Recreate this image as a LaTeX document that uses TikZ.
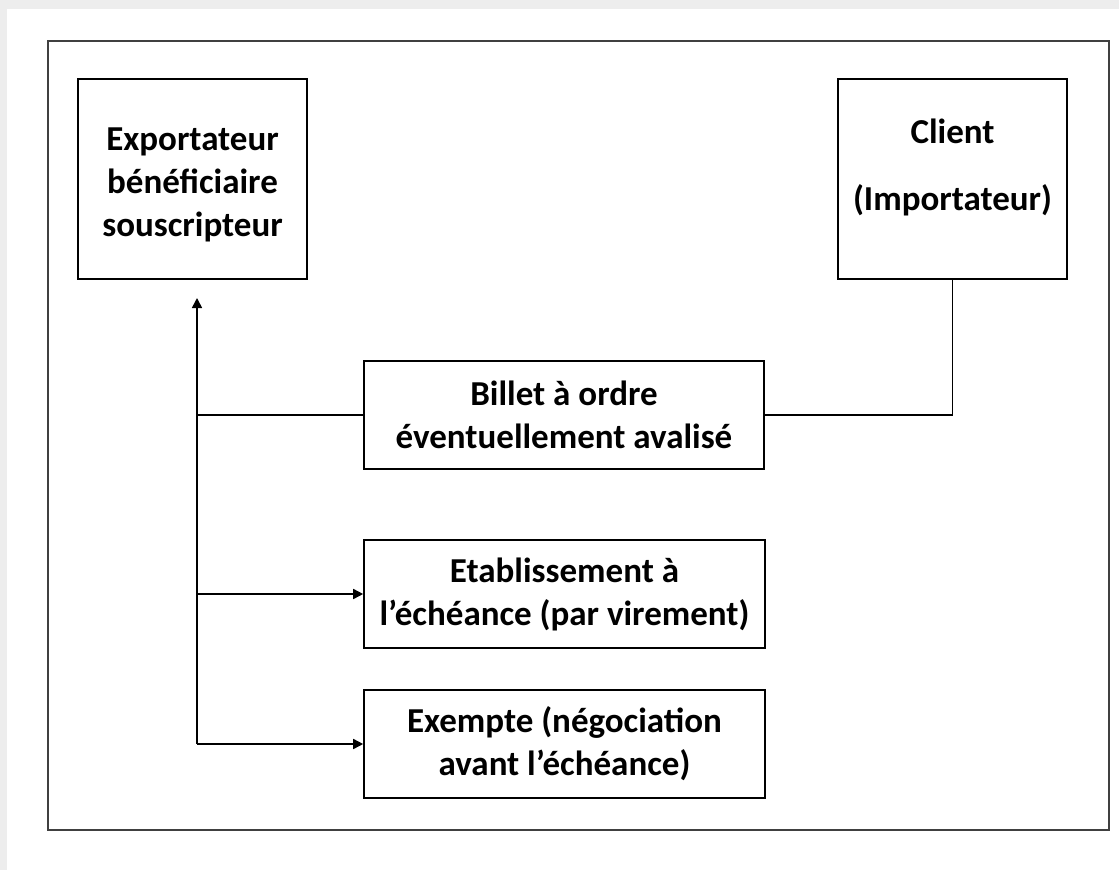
\documentclass[tikz,border=0pt]{standalone}
\usepackage{fontspec}
\setmainfont{Carlito}
\usetikzlibrary{arrows.meta}
\begin{document}
\begin{tikzpicture}[x=1pt,y=-1pt,
  frame/.style={draw=black!75, line width=2.4pt, inner sep=0pt},
  box/.style={draw=black, line width=1.6pt, inner sep=0pt, align=center,
    font=\bfseries\fontsize{35}{43}\selectfont},
  txt/.style={inner sep=0pt, align=center, font=\bfseries\fontsize{35}{43}\selectfont},
  link/.style={draw=black, line width=1.6pt},
  arr/.style={link, -{Triangle[length=10pt,width=10pt]}}]

  % page with its light shadow along the top and left edges
  \fill[black!7] (0,0) rectangle (1119,870);
  \fill[white] (7,9) rectangle (1119,870);
  \useasboundingbox (0,0) rectangle (1119,870);

  % outer frame
  \node[frame, minimum width=1061pt, minimum height=789pt] (cadre) at (578.5,435.5) {};

  % parties
  \node[box, minimum width=229pt, minimum height=200pt] (exp) at (192.5,179) {};
  \node[txt] (exptxt) at (192.5,185) {Exportateur\\bénéficiaire\\souscripteur};
  \node[box, minimum width=229pt, minimum height=200pt] (cli) at (952.5,179) {};
  \node[txt] (clitxt) at (952.5,167) {Client\\[24pt](Importateur)};

  % instrument and settlement modes
  \node[box, minimum width=400pt, minimum height=108pt] (bil) at (564,415)
    {Billet à ordre\\éventuellement avalisé};
  \node[box, minimum width=401pt, minimum height=108pt] (eta) at (564.5,594)
    {Etablissement à\\l’échéance (par virement)};
  \node[box, minimum width=401pt, minimum height=108pt] (exm) at (564.5,744)
    {Exempte (négociation\\avant l’échéance)};

  % trunk on the left
  \coordinate (tip) at (197,298);
  \coordinate (jb) at (197,415);
  \coordinate (je) at (197,594);
  \coordinate (jx) at (197,744);

  \draw[arr] (jx) -- (tip);
  \draw[link] (bil.west) -- (jb);
  \draw[arr] (je) -- (eta.west);
  \draw[arr] (jx) -- (exm.west);
  \draw[link] (cli.south) |- (bil.east);
\end{tikzpicture}
\end{document}
